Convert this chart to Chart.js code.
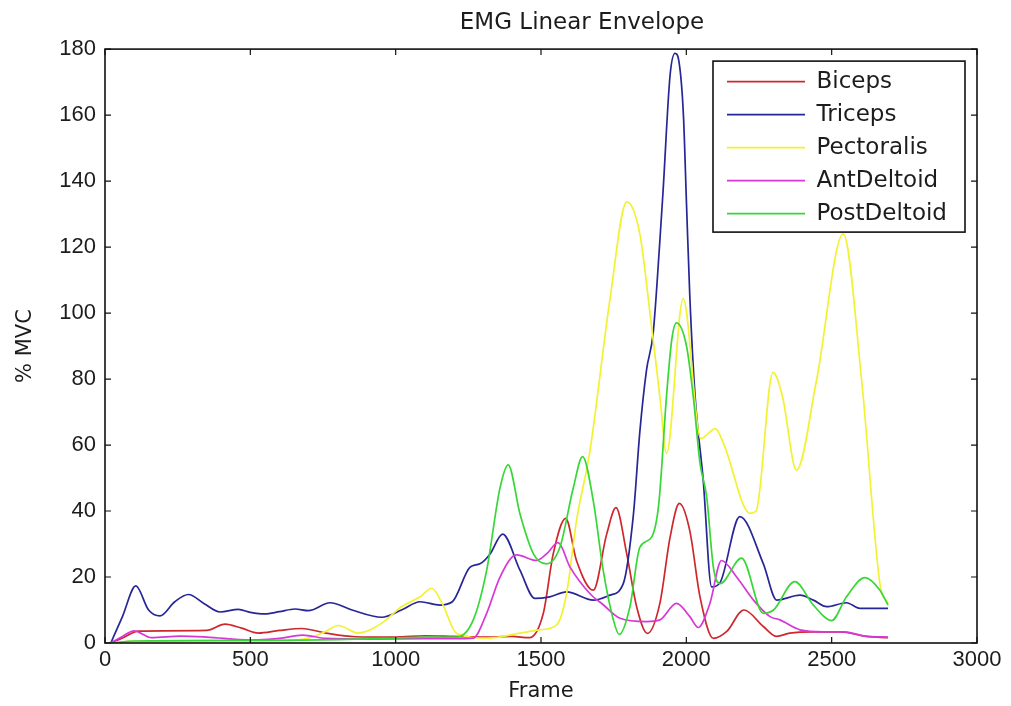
<!DOCTYPE html>
<html>
<head>
<meta charset="utf-8">
<script src="https://cdn.jsdelivr.net/npm/chart.js@4/dist/chart.umd.min.js"></script>
<style>
  html, body { margin: 0; padding: 0; background: #ffffff; }
  #wrap { width: 1011px; height: 706px; }
</style>
</head>
<body>
<div id="wrap"><canvas id="c" width="1011" height="706"></canvas></div>
<script>
// ---- data ----
const chartTitle = 'EMG Linear Envelope';
const xTitle = 'Frame';
const yTitle = '% MVC';
const seriesNames = ['Biceps', 'Triceps', 'Pectoralis', 'AntDeltoid', 'PostDeltoid'];
const seriesColors = ['rgb(205,40,45)', 'rgb(38,38,150)', 'rgb(242,242,50)', 'rgb(215,55,215)', 'rgb(55,215,55)'];

const bicepsFrames = [20, 60, 115, 200, 350, 413, 470, 527, 600, 677, 760, 860, 1000, 1100, 1200, 1300, 1400, 1460, 1508, 1542, 1585, 1622, 1680, 1726, 1758, 1795, 1829, 1866, 1909, 1944, 1976, 2012, 2047, 2093, 2139, 2198, 2265, 2311, 2356, 2437, 2530, 2620, 2694];
const bicepsValues = [0, 1.5, 3.6, 3.7, 3.8, 5.7, 4.5, 3.0, 3.8, 4.4, 3.0, 1.9, 1.8, 2.2, 2.0, 1.8, 2.0, 1.6, 9, 27, 37.8, 25, 16, 33, 41, 27, 11, 2.9, 12, 32, 42.3, 34, 14, 1.4, 3.5, 10, 5, 2, 3, 3.4, 3.4, 2.0, 1.6];

const tricepsFrames = [20, 60, 106, 150, 189, 240, 287, 340, 396, 459, 500, 550, 600, 654, 700, 774, 850, 952, 1020, 1084, 1152, 1195, 1256, 1290, 1325, 1368, 1428, 1479, 1530, 1588, 1680, 1737, 1783, 1818, 1840, 1863, 1886, 1909, 1920, 1944, 1961, 1975, 1990, 2001, 2012, 2030, 2058, 2087, 2116, 2184, 2265, 2311, 2391, 2437, 2483, 2551, 2597, 2694];
const tricepsValues = [0, 8, 17.3, 10, 8.2, 12.5, 14.7, 12, 9.4, 10.2, 9.3, 8.8, 9.5, 10.3, 9.8, 12.2, 10, 7.8, 10, 12.5, 11.5, 12.5, 23, 24, 27, 33, 22, 13.5, 14, 15.5, 13, 14.5, 18, 39, 64, 82.7, 94, 122, 137, 172, 178.7, 176, 160, 132, 105, 75, 49.4, 17, 18.3, 38.3, 24, 13, 14.5, 13, 11, 12.2, 10.5, 10.5];

const pectoralisFrames = [20, 100, 300, 600, 700, 757, 803, 871, 952, 1020, 1084, 1124, 1160, 1210, 1318, 1428, 1496, 1554, 1588, 1622, 1668, 1737, 1795, 1840, 1875, 1909, 1932, 1989, 2050, 2100, 2130, 2219, 2240, 2298, 2330, 2379, 2448, 2540, 2603, 2666, 2694];
const pectoralisValues = [0, 0.5, 0.5, 0.6, 1.5, 3.4, 5.3, 3.0, 6, 11, 14, 16.6, 12, 2.9, 1.5, 3, 4, 5.5, 15, 37, 58, 104, 133.7, 124, 100, 74.6, 57.5, 104.4, 62, 65, 60, 39.3, 40, 82, 75, 52.4, 79.7, 124, 79.7, 18, 12];

const antDeltoidFrames = [20, 60, 100, 160, 260, 350, 500, 600, 680, 760, 900, 1100, 1200, 1267, 1313, 1359, 1416, 1485, 1519, 1559, 1600, 1668, 1714, 1772, 1863, 1909, 1966, 2012, 2041, 2081, 2121, 2173, 2231, 2288, 2322, 2391, 2472, 2540, 2620, 2694];
const antDeltoidValues = [0, 2, 3.7, 1.6, 2.1, 1.8, 0.9, 1.4, 2.4, 1.4, 1.2, 1.3, 1.3, 1.5, 9, 20, 26.7, 25, 27, 30.4, 23, 15, 11.6, 7.5, 6.5, 7, 12, 8, 4.7, 12, 25, 20, 13, 8, 7, 4, 3.4, 3.4, 2, 1.8];

const postDeltoidFrames = [20, 100, 500, 800, 1000, 1100, 1210, 1267, 1313, 1359, 1387, 1428, 1474, 1519, 1565, 1611, 1643, 1680, 1714, 1749, 1769, 1806, 1840, 1880, 1905, 1932, 1950, 1966, 2001, 2024, 2047, 2070, 2093, 2116, 2190, 2265, 2300, 2373, 2437, 2500, 2551, 2614, 2666, 2694];
const postDeltoidValues = [0, 0.6, 0.8, 1.0, 1.5, 1.8, 1.8, 7, 22, 47, 54, 39, 27, 24, 29, 47, 56.5, 43, 22, 7, 2.6, 11, 29, 32, 42, 75, 92, 97, 89.8, 74.6, 54.5, 44.3, 23, 18, 25.7, 9, 10, 18.6, 11.5, 6.8, 14, 19.8, 16, 11.5];

const xTicks = [0, 500, 1000, 1500, 2000, 2500, 3000];
const yTicks = [0, 20, 40, 60, 80, 100, 120, 140, 160, 180];

// ---- build chart ----
const seriesFrames = [bicepsFrames, tricepsFrames, pectoralisFrames, antDeltoidFrames, postDeltoidFrames];
const seriesValues = [bicepsValues, tricepsValues, pectoralisValues, antDeltoidValues, postDeltoidValues];

const datasets = seriesNames.map((name, i) => ({
  label: name,
  data: seriesFrames[i].map((f, k) => ({ x: f, y: seriesValues[i][k] })),
  borderColor: seriesColors[i],
  backgroundColor: seriesColors[i],
  borderWidth: 1.7,
  pointRadius: 0,
  fill: false,
  cubicInterpolationMode: 'monotone',
  order: seriesNames.length - i
}));

const tickFont = { family: "'Liberation Sans', Arial, sans-serif", size: 22 };
const textFont = { family: "'DejaVu Sans', sans-serif", size: 21, weight: 'normal' };
const titleFont = { family: "'DejaVu Sans', sans-serif", size: 23, weight: 'normal' };
const ink = '#1c1c1c';

const matlabLook = {
  id: 'matlabLook',
  afterLayout(chart) {
    const a = chart.chartArea;
    const t = chart.titleBlock;
    if (t) {
      const c = (a.left + a.right) / 2 + 41;
      t.left = c - 170; t.right = c + 170;
    }
    const lg = chart.legend;
    if (lg) {
      const bx = a.right - 12 - 252;
      lg.left = bx + 4; lg.top = a.top + 11;
      lg.width = 248; lg.height = a.bottom - lg.top;
      lg.right = lg.left + lg.width; lg.bottom = a.bottom;
    }
  },
  beforeDraw(chart) {
    const { ctx, chartArea: a } = chart;
    const bx = a.right - 12 - 252, by = a.top + 12;
    ctx.save();
    ctx.fillStyle = '#ffffff';
    ctx.fillRect(bx, by, 252, 171);
    ctx.strokeStyle = '#111';
    ctx.lineWidth = 1.6;
    ctx.strokeRect(bx, by, 252, 171);
    ctx.restore();
  },
  afterDatasetsDraw(chart) {
    const { ctx, chartArea: a, scales } = chart;
    const x = scales.x, y = scales.y;
    ctx.save();
    ctx.strokeStyle = '#111';
    ctx.lineWidth = 1.6;
    ctx.strokeRect(a.left, a.top, a.right - a.left, a.bottom - a.top);
    ctx.lineWidth = 1.2;
    ctx.beginPath();
    xTicks.forEach(v => {
      const px = x.getPixelForValue(v);
      ctx.moveTo(px, a.bottom); ctx.lineTo(px, a.bottom - 6);
      ctx.moveTo(px, a.top); ctx.lineTo(px, a.top + 6);
    });
    yTicks.forEach(v => {
      const py = y.getPixelForValue(v);
      ctx.moveTo(a.left, py); ctx.lineTo(a.left + 6, py);
      ctx.moveTo(a.right, py); ctx.lineTo(a.right - 6, py);
    });
    ctx.stroke();
    ctx.restore();
  }
};

new Chart(document.getElementById('c'), {
  type: 'line',
  data: { datasets },
  plugins: [matlabLook],
  options: {
    responsive: false,
    animation: false,
    devicePixelRatio: 1,
    layout: { padding: { left: 0, right: 34, top: 0, bottom: 0 } },
    plugins: {
      title: {
        display: true,
        text: chartTitle,
        color: ink,
        font: titleFont,
        padding: { top: 9, bottom: 12.5 }
      },
      legend: {
        position: 'chartArea',
        align: 'start',
        labels: {
          usePointStyle: true,
          pointStyle: 'line',
          pointStyleWidth: 78,
          padding: 10,
          color: ink,
          font: { family: "'DejaVu Sans', sans-serif", size: 23 },
          sort: (a, b) => a.datasetIndex - b.datasetIndex
        }
      },
      tooltip: { enabled: false }
    },
    scales: {
      x: {
        type: 'linear',
        min: 0, max: 3000,
        grid: { display: false, drawTicks: false },
        border: { display: false },
        afterBuildTicks: s => { s.ticks = xTicks.map(v => ({ value: v })); },
        afterFit: s => { s.height = 63; },
        ticks: { font: tickFont, color: ink, padding: 4, maxRotation: 0, callback: v => String(v) },
        title: { display: true, text: xTitle, color: ink, font: textFont, padding: { top: 0, bottom: 2 } }
      },
      y: {
        type: 'linear',
        min: 0, max: 180,
        grid: { display: false, drawTicks: false },
        border: { display: false },
        afterBuildTicks: s => { s.ticks = yTicks.map(v => ({ value: v })); },
        afterFit: s => { s.width = 105; },
        ticks: { font: tickFont, color: ink, padding: 9, callback: v => String(v) },
        title: { display: true, text: yTitle, color: ink, font: textFont, padding: { top: 13, bottom: 0 } }
      }
    }
  }
});
</script>
</body>
</html>
